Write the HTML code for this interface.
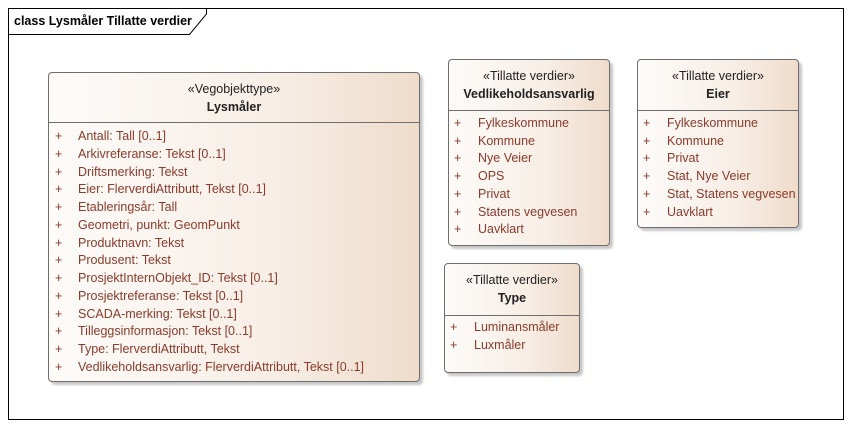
<!DOCTYPE html>
<html><head><meta charset="utf-8"><style>
body{margin:0;width:852px;height:427px;background:#fff;position:relative;font-family:"Liberation Sans",sans-serif;overflow:hidden}
.frame{position:absolute;left:8px;top:8px;width:834px;height:410px;border:1px solid #000}
.box{position:absolute;border:1px solid #6e6e6e;border-radius:4px;background:linear-gradient(to right,#fdfbf9,#f7eee6 60%,#efdccb);box-shadow:3px 3px 2px #c8c8c8;box-sizing:border-box}
.hd{position:absolute;left:0;right:0;top:0;border-bottom:1px solid #6e6e6e;text-align:center;font-size:12.5px;line-height:18px;color:#222}
.hd b{display:block}
.r{position:absolute;font-size:12.5px;color:#8a3b2b;white-space:nowrap}
</style></head><body>
<div class="frame"></div>
<svg style="position:absolute;left:0;top:0" width="852" height="427"><path d="M8.5 34.5H189.5L206.5 14V8" fill="none" stroke="#000"/></svg>
<div style="position:absolute;left:14px;top:14px;font-size:12.5px;font-weight:bold;color:#000">class Lysmåler Tillatte verdier</div>

<div class="box" style="left:48px;top:72px;width:372px;height:310px">
<div class="hd" style="height:50px;padding-top:7px;box-sizing:border-box">«Vegobjekttype»<b>Lysmåler</b></div>
</div>
<div class="box" style="left:448px;top:59px;width:162px;height:187px">
<div class="hd" style="height:51px;padding-top:7px;box-sizing:border-box">«Tillatte verdier»<b>Vedlikeholdsansvarlig</b></div>
</div>
<div class="box" style="left:637px;top:59px;width:162px;height:169px">
<div class="hd" style="height:51px;padding-top:7px;box-sizing:border-box">«Tillatte verdier»<b>Eier</b></div>
</div>
<div class="box" style="left:444px;top:263px;width:136px;height:110px">
<div class="hd" style="height:52px;padding-top:7px;box-sizing:border-box">«Tillatte verdier»<b>Type</b></div>
</div>
<div id="rows"></div>
<script>
function rows(px,tx,y0,dy,items){let h='';items.forEach((t,i)=>{const y=y0+i*dy;h+=`<div class="r" style="left:${px}px;top:${y}px">+</div><div class="r" style="left:${tx}px;top:${y}px">${t}</div>`});document.getElementById('rows').insertAdjacentHTML('beforeend',h);}
rows(55,78,129,17.75,["Antall: Tall [0..1]","Arkivreferanse: Tekst [0..1]","Driftsmerking: Tekst","Eier: FlerverdiAttributt, Tekst [0..1]","Etableringsår: Tall","Geometri, punkt: GeomPunkt","Produktnavn: Tekst","Produsent: Tekst","ProsjektInternObjekt_ID: Tekst [0..1]","Prosjektreferanse: Tekst [0..1]","SCADA-merking: Tekst [0..1]","Tilleggsinformasjon: Tekst [0..1]","Type: FlerverdiAttributt, Tekst","Vedlikeholdsansvarlig: FlerverdiAttributt, Tekst [0..1]"]);
rows(454,478,116,17.7,["Fylkeskommune","Kommune","Nye Veier","OPS","Privat","Statens vegvesen","Uavklart"]);
rows(643,667,116,17.7,["Fylkeskommune","Kommune","Privat","Stat, Nye Veier","Stat, Statens vegvesen","Uavklart"]);
rows(450,474,320,18,["Luminansmåler","Luxmåler"]);
</script>
</body></html>
